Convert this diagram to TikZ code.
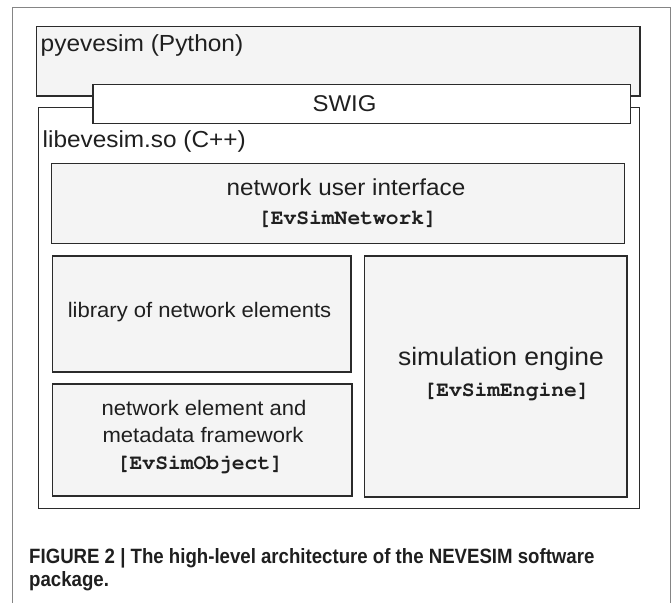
\documentclass[tikz,border=0pt]{standalone}
\usepackage{fontspec}
\setmainfont{Liberation Sans}[FakeStretch=1.05]
\newfontfamily\capfont{Liberation Sans}[FakeStretch=0.9]
\newcommand\courbf{\fontencoding{OT1}\fontfamily{pcr}\fontseries{b}\selectfont}
\usetikzlibrary{positioning}
\definecolor{boxfill}{HTML}{F4F4F4}
\definecolor{boxline}{HTML}{2B2B2B}
\definecolor{framegray}{HTML}{858585}

\begin{document}
\begin{tikzpicture}[x=1pt, y=-1pt,
    box/.style={draw=boxline, line width=1.6pt, fill=boxfill},
    txt/.style={inner sep=0pt, text=black!88},
    cls/.style={txt, font=\courbf\fontsize{21.3}{25}\selectfont}]
    \useasboundingbox (0,0) rectangle (671,602);

    % Outer frame
    \draw[framegray, line width=0.9pt] (12.7,610) -- (12.7,7.5) -- (670,7.5) -- (670,610);

    % Python layer
    \draw[box] (36.4,26.7) rectangle (640,96);
    \node[txt, anchor=base west, font=\fontsize{23.3}{27}\selectfont] (pyname) at (40.5,51.7) {pyevesim (Python)};

    % C++ library
    \draw[box, fill=white] (38.3,107.3) rectangle (639.5,508.3);
    \node[txt, anchor=base west, font=\fontsize{23.2}{27}\selectfont] (libname) at (42.5,147.5) {libevesim.so (C++)};

    % SWIG wrapper
    \draw[box, fill=white] (92.9,84.5) rectangle (630.5,123.3);
    \node[txt, anchor=base, font=\fontsize{22.8}{27}\selectfont] (swig) at (344.5,111.7) {SWIG};

    % Network user interface
    \draw[box] (51.5,163.3) rectangle (624.5,243.3);
    \node[txt, anchor=base, font=\fontsize{23.1}{27}\selectfont] (nui) at (346,195) {network user interface};
    \node[cls, anchor=base] (nuicls) at (347.5,224) {[EvSimNetwork]};

    % Library of elements
    \draw[box] (52.3,256) rectangle (350.8,371.7);
    \node[txt, anchor=base, font=\fontsize{21}{25}\selectfont] (elemlib) at (199.5,317.7) {library of network elements};

    % Element framework
    \draw[box] (52.3,384) rectangle (351.7,496);
    \node[txt, anchor=base, font=\fontsize{21}{25}\selectfont] (frame1) at (204,415) {network element and};
    \node[txt, anchor=base, font=\fontsize{21}{25}\selectfont] (frame2) at (203,442.7) {metadata framework};
    \node[cls, anchor=base] (framecls) at (200,469) {[EvSimObject]};

    % Simulation engine
    \draw[box] (364.3,256) rectangle (626.7,496.7);
    \node[txt, anchor=base, font=\fontsize{25.2}{29}\selectfont] (engine) at (501,365) {simulation engine};
    \node[cls, anchor=base] (enginecls) at (506.6,396.7) {[EvSimEngine]};

    % Caption
    \node[txt, anchor=base west, font=\capfont\bfseries\fontsize{20.7}{24}\selectfont] (cap1) at (29,563.3) {FIGURE 2 | The high-level architecture of the NEVESIM software};
    \node[txt, anchor=base west, font=\capfont\bfseries\fontsize{20.7}{24}\selectfont] (cap2) at (29,586) {package.};
\end{tikzpicture}
\end{document}
